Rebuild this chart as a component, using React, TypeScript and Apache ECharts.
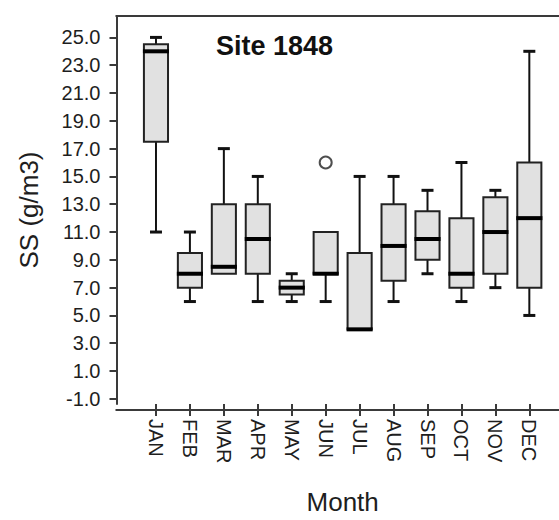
import React, { useEffect, useRef } from "react";
import * as echarts from "echarts";

const months = ["JAN", "FEB", "MAR", "APR", "MAY", "JUN", "JUL", "AUG", "SEP", "OCT", "NOV", "DEC"];
const mins = [11, 6, 8, 6, 6, 6, 4, 6, 8, 6, 7, 5];
const q1s = [17.5, 7, 8, 8, 6.5, 8, 4, 7.5, 9, 7, 8, 7];
const medians = [24, 8, 8.5, 10.5, 7, 8, 4, 10, 10.5, 8, 11, 12];
const q3s = [24.5, 9.5, 13, 13, 7.5, 11, 9.5, 13, 12.5, 12, 13.5, 16];
const maxs = [25, 11, 17, 15, 8, 11, 15, 15, 14, 16, 14, 24];
const outlierMonths = ["JUN"];
const outlierValues = [16];
const yTicks = [-1, 1, 3, 5, 7, 9, 11, 13, 15, 17, 19, 21, 23, 25];

const FONT = '"Liberation Sans", Arial, sans-serif';
const AXIS = "#3a3a3a";
const INK = "#1e1e1e";

export default function App() {
  const ref = useRef<HTMLDivElement>(null);

  useEffect(() => {
    if (!ref.current) return;
    const chart = echarts.init(ref.current, undefined, { renderer: "svg" });

    const boxData = months.map((m, i) => [i, mins[i], q1s[i], medians[i], q3s[i], maxs[i]]);
    const outData = outlierMonths.map((m, i) => [months.indexOf(m), outlierValues[i]]);

    const option: any = {
      animation: false,
      backgroundColor: "#ffffff",
      grid: { left: 139, right: 12.7, top: 16, bottom: 110, containLabel: false },
      xAxis: {
        type: "category",
        data: months,
        boundaryGap: true,
        name: "Month",
        nameLocation: "middle",
        nameGap: 85,
        nameTextStyle: { fontFamily: FONT, fontSize: 26, color: INK },
        axisLine: { show: false, onZero: false },
        axisTick: { show: true, alignWithLabel: true, length: 12, lineStyle: { color: AXIS, width: 2 } },
        axisLabel: {
          rotate: -90,
          margin: 15,
          fontFamily: FONT,
          fontSize: 20,
          color: INK,
          interval: 0,
        },
        splitLine: { show: false },
      },
      yAxis: {
        type: "value",
        min: -1.37,
        max: 26.54,
        offset: 22.5,
        name: "SS (g/m3)",
        nameLocation: "middle",
        nameGap: 75,
        nameTextStyle: { fontFamily: FONT, fontSize: 26, color: INK },
        axisLine: { show: true, onZero: false, lineStyle: { color: AXIS, width: 2 } },
        axisTick: { show: true, length: 7, customValues: yTicks, lineStyle: { color: AXIS, width: 2 } },
        axisLabel: {
          customValues: yTicks,
          margin: 16,
          fontFamily: FONT,
          fontSize: 20,
          color: INK,
          formatter: (v: number) => v.toFixed(1),
        },
        splitLine: { show: false },
      },
      graphic: [
        {
          type: "line",
          shape: { x1: 115.5, y1: 16, x2: 559, y2: 16 },
          style: { stroke: AXIS, lineWidth: 2 },
          z: 10,
        },
        {
          type: "line",
          shape: { x1: 115.5, y1: 410, x2: 559, y2: 410 },
          style: { stroke: AXIS, lineWidth: 2 },
          z: 10,
        },
        {
          type: "text",
          x: 216,
          y: 46,
          style: {
            text: "Site 1848",
            font: `bold 27px ${FONT}`,
            fill: "#111",
            verticalAlign: "middle",
            align: "left",
          },
          z: 10,
        },
      ],
      series: [
        {
          type: "custom",
          data: boxData,
          encode: { x: 0, y: [1, 2, 3, 4, 5] },
          renderItem: (params: any, api: any) => {
            const x = api.value(0);
            const vLo = api.value(1);
            const vQ1 = api.value(2);
            const vMd = api.value(3);
            const vQ3 = api.value(4);
            const vHi = api.value(5);
            const lo = api.coord([x, vLo]);
            const q1 = api.coord([x, vQ1]);
            const md = api.coord([x, vMd]);
            const q3 = api.coord([x, vQ3]);
            const hi = api.coord([x, vHi]);
            const bw = api.size([1, 0])[0] * 0.71;
            const cw = 12;
            const cx = md[0];
            const stroke = "#111";
            const children: any[] = [];
            if (vHi > vQ3) {
              children.push({
                type: "line",
                shape: { x1: cx, y1: hi[1], x2: cx, y2: q3[1] },
                style: { stroke, lineWidth: 2 },
              });
              children.push({
                type: "line",
                shape: { x1: cx - cw / 2, y1: hi[1], x2: cx + cw / 2, y2: hi[1] },
                style: { stroke, lineWidth: 3 },
              });
            }
            if (vLo < vQ1) {
              children.push({
                type: "line",
                shape: { x1: cx, y1: q1[1], x2: cx, y2: lo[1] },
                style: { stroke, lineWidth: 2 },
              });
              children.push({
                type: "line",
                shape: { x1: cx - cw / 2, y1: lo[1], x2: cx + cw / 2, y2: lo[1] },
                style: { stroke, lineWidth: 3 },
              });
            }
            children.push({
              type: "rect",
              shape: { x: cx - bw / 2, y: q3[1], width: bw, height: q1[1] - q3[1] },
              style: { fill: "#e1e1e1", stroke: "#222", lineWidth: 2 },
            });
            children.push({
              type: "line",
              shape: { x1: cx - bw / 2 - 1, y1: md[1], x2: cx + bw / 2 + 1, y2: md[1] },
              style: { stroke: "#000", lineWidth: 4 },
            });
            return { type: "group", children };
          },
          z: 5,
        },
        {
          type: "scatter",
          data: outData,
          symbol: "circle",
          symbolSize: 12,
          itemStyle: { color: "#ffffff", borderColor: "#222", borderWidth: 2 },
          z: 6,
        },
      ],
    };

    chart.setOption(option);
    return () => chart.dispose();
  }, []);

  return (
    <div
      ref={ref}
      style={{ position: "absolute", left: 0, top: 0, width: 559, height: 520, background: "#fff" }}
    />
  );
}
